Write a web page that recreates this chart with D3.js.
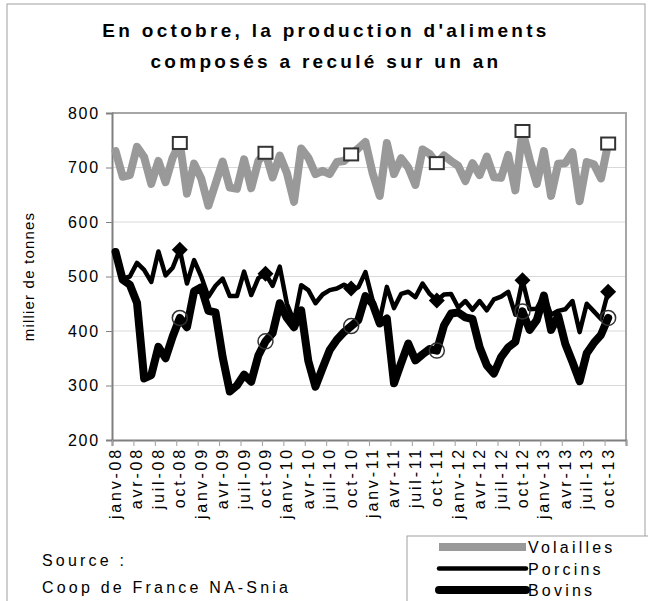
<!DOCTYPE html>
<html>
<head>
<meta charset="utf-8">
<script src="https://cdn.jsdelivr.net/npm/d3@7"></script>
<style>
    body { margin: 0; background: #fff; }
    svg text { font-family: "Liberation Sans", Arial, sans-serif; fill: #000; }
</style>
</head>
<body>
<div class="chart-container"></div>
<script>
// tick labels, one every 3 months (axis runs janv-08 .. déc-13, 72 months)
const tickLabels = [
    'janv-08', 'avr-08', 'juil-08', 'oct-08',
    'janv-09', 'avr-09', 'juil-09', 'oct-09',
    'janv-10', 'avr-10', 'juil-10', 'oct-10',
    'janv-11', 'avr-11', 'juil-11', 'oct-11',
    'janv-12', 'avr-12', 'juil-12', 'oct-12',
    'janv-13', 'avr-13', 'juil-13', 'oct-13',
];
const monthCount = 72;
const yTicks = [200, 300, 400, 500, 600, 700, 800];

// monthly values, janv-08 .. oct-13 (milliers de tonnes)
const volailles = [
    730, 683, 686, 738, 719, 670, 712, 673, 718, 745, 652, 707,
    680, 630, 670, 711, 663, 661, 715, 662, 712, 727, 682, 722,
    690, 637, 735, 718, 688, 694, 688, 710, 712, 724, 735, 747,
    690, 648, 745, 688, 717, 700, 668, 733, 725, 708, 722, 712,
    703, 675, 708, 686, 720, 682, 681, 723, 658, 767, 715, 670,
    730, 648, 707, 708, 728, 638, 710, 706, 680, 744,
];
const porcins = [
    545, 496, 500, 525, 512, 490, 546, 502, 516, 549, 487, 530,
    500, 463, 483, 496, 464, 464, 509, 466, 497, 505, 483, 518,
    450, 418, 484, 475, 451, 467, 475, 478, 485, 478, 480, 508,
    457, 420, 481, 442, 468, 472, 462, 487, 468, 456, 467, 468,
    443, 455, 439, 455, 438, 458, 463, 472, 430, 493, 440, 441,
    466, 430, 437, 440, 455, 398, 450, 436, 422, 472,
];
const bovins = [
    545, 494, 485, 452, 313, 319, 371, 350, 390, 424, 407, 473,
    480, 437, 434, 352, 289, 300, 320, 307, 355, 381, 396, 451,
    424, 407, 438, 345, 298, 332, 365, 384, 398, 409, 420, 464,
    450, 414, 423, 304, 341, 377, 346, 357, 367, 364, 410, 432,
    434, 425, 422, 370, 337, 322, 352, 370, 380, 436, 402, 420,
    465, 402, 428, 376, 343, 308, 359, 378, 393, 424,
];
// the October points carry a marker
const markerMonths = [9, 21, 33, 45, 57, 69];

const series = [
    { name: 'Volailles', values: volailles, color: '#999999', width: 8, marker: 'square' },
    { name: 'Porcins', values: porcins, color: '#000000', width: 4.5, marker: 'diamond' },
    { name: 'Bovins', values: bovins, color: '#000000', width: 8, marker: 'circle' },
];

const width = 648;
const height = 601;
const plot = { left: 112, right: 626, top: 113, bottom: 440 };

const svg = d3.select('.chart-container').append('svg')
    .attr('width', width)
    .attr('height', height);

// outer frame
svg.append('rect')
    .attr('x', 7).attr('y', 4)
    .attr('width', 638).attr('height', 620)
    .attr('fill', 'none')
    .attr('stroke', '#a0a0a0')
    .attr('stroke-width', 1);

// title
const title = svg.append('text')
    .attr('text-anchor', 'middle')
    .style('font-size', '19px')
    .style('font-weight', 'bold')
    .style('letter-spacing', '3.3px');
title.append('tspan').attr('x', 326).attr('y', 37).text("En octobre, la production d'aliments");
title.append('tspan').attr('x', 326).attr('y', 68).text('composés a reculé sur un an');

const x = d3.scaleLinear().domain([0, monthCount]).range([plot.left, plot.right]);
const y = d3.scaleLinear().domain([200, 800]).range([plot.bottom, plot.top]);

// grid
svg.append('g')
    .selectAll('line')
    .data(yTicks.filter((t) => t > 200 && t < 800))
    .enter()
    .append('line')
    .attr('x1', plot.left).attr('x2', plot.right)
    .attr('y1', (d) => y(d)).attr('y2', (d) => y(d))
    .attr('stroke', '#d9d9d9')
    .attr('stroke-width', 1);

// plot area border (top / right)
svg.append('path')
    .attr('d', 'M' + plot.left + ',' + y(800) + 'H' + plot.right + 'V' + plot.bottom)
    .attr('fill', 'none')
    .attr('stroke', '#a6a6a6')
    .attr('stroke-width', 2);

// y axis
const yAxis = svg.append('g')
    .attr('transform', 'translate(' + plot.left + ',0)')
    .call(d3.axisLeft(y).tickValues(yTicks).tickSize(6).tickPadding(6));
yAxis.select('.domain').attr('stroke', '#808080').attr('stroke-width', 2);
yAxis.selectAll('.tick line').attr('stroke', '#808080');
yAxis.selectAll('.tick text')
    .style('font-size', '16px')
    .style('letter-spacing', '1.8px')
    .style('font-family', '"Liberation Sans", Arial, sans-serif')
    .attr('fill', '#000');

svg.append('text')
    .attr('transform', 'translate(34,' + ((plot.top + plot.bottom) / 2) + ') rotate(-90)')
    .attr('text-anchor', 'middle')
    .style('font-size', '15px')
    .style('letter-spacing', '1.2px')
    .text('millier de tonnes');

// x axis: tick marks on month boundaries, labels at month centres
const tickPos = d3.range(0, monthCount + 1, 3);
const xAxis = svg.append('g')
    .attr('transform', 'translate(0,' + plot.bottom + ')')
    .call(d3.axisBottom(x).tickValues(tickPos).tickSize(6).tickFormat(''));
xAxis.select('.domain').attr('stroke', '#808080').attr('stroke-width', 2);
xAxis.selectAll('.tick line').attr('stroke', '#a0a0a0');

svg.append('g')
    .selectAll('text')
    .data(tickLabels)
    .enter()
    .append('text')
    .attr('transform', (d, i) => 'translate(' + (x(i * 3 + 0.5) + 5.5) + ',' + (plot.bottom + 7) + ') rotate(-90)')
    .attr('text-anchor', 'end')
    .style('font-size', '16px')
    .style('letter-spacing', '2.8px')
    .text((d) => d);

// lines
const line = d3.line()
    .x((d, i) => x(i + 0.5))
    .y((d) => y(d));

series.forEach((s) => {
    svg.append('path')
        .datum(s.values)
        .attr('d', line)
        .attr('fill', 'none')
        .attr('stroke', s.color)
        .attr('stroke-width', s.width)
        .attr('stroke-linejoin', 'round')
        .attr('stroke-linecap', 'round');
});

// markers
series.forEach((s) => {
    const g = svg.append('g');
    const pts = markerMonths.map((m) => ({ cx: x(m + 0.5), cy: y(s.values[m]) }));
    if (s.marker === 'square') {
        g.selectAll('rect').data(pts).enter().append('rect')
            .attr('x', (d) => d.cx - 7).attr('y', (d) => d.cy - 6)
            .attr('width', 14).attr('height', 12)
            .attr('fill', '#fff').attr('stroke', '#333').attr('stroke-width', 2);
    } else if (s.marker === 'diamond') {
        g.selectAll('path').data(pts).enter().append('path')
            .attr('d', (d) => 'M' + d.cx + ',' + (d.cy - 8) + 'L' + (d.cx + 8) + ',' + d.cy +
                'L' + d.cx + ',' + (d.cy + 8) + 'L' + (d.cx - 8) + ',' + d.cy + 'Z')
            .attr('fill', '#000');
    } else {
        g.selectAll('circle').data(pts).enter().append('circle')
            .attr('cx', (d) => d.cx).attr('cy', (d) => d.cy).attr('r', 7.5)
            .attr('fill', 'none').attr('stroke', '#333').attr('stroke-width', 1.5);
    }
});

// source
const source = svg.append('text')
    .style('font-size', '16px')
    .style('letter-spacing', '3.2px');
source.append('tspan').attr('x', 42).attr('y', 566).text('Source :');
source.append('tspan').attr('x', 42).attr('y', 593).text('Coop de France NA-Snia');

// legend
const legend = svg.append('g');
legend.append('rect')
    .attr('x', 407).attr('y', 536)
    .attr('width', 260).attr('height', 80)
    .attr('fill', '#fff')
    .attr('stroke', '#a0a0a0')
    .attr('stroke-width', 1);
const legendRows = legend.selectAll('.legend-row')
    .data(series)
    .enter()
    .append('g')
    .attr('class', 'legend-row')
    .attr('transform', (d, i) => 'translate(0,' + (547 + i * 21.5) + ')');
legendRows.append('line')
    .attr('x1', 439).attr('x2', 526)
    .attr('stroke', (d) => d.color)
    .attr('stroke-width', (d) => d.width)
    .attr('stroke-linecap', (d) => (d.marker === 'square' ? 'butt' : 'round'));
legendRows.append('text')
    .attr('x', 528).attr('y', 6)
    .style('font-size', '16px')
    .style('letter-spacing', '3.2px')
    .text((d) => d.name);
</script>
</body>
</html>
